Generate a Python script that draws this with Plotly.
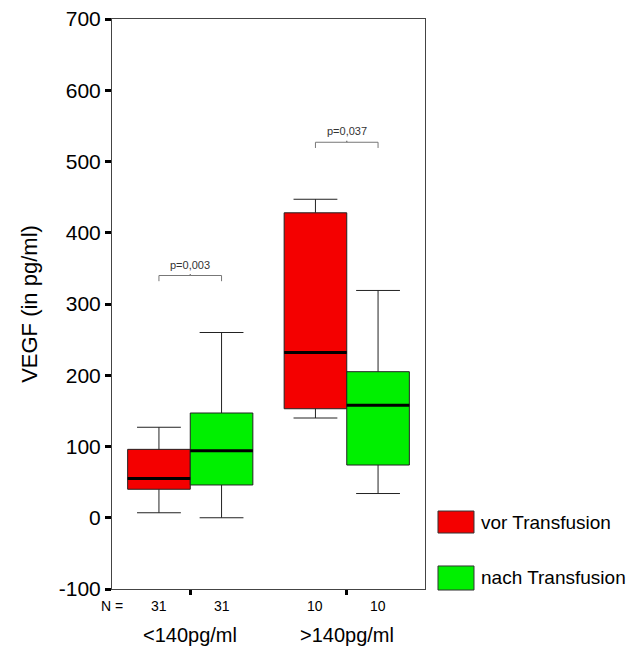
import plotly.graph_objects as go

# ---- data ----
groups = ["<140pg/ml", ">140pg/ml"]
n_counts_vor = [31, 10]
n_counts_nach = [31, 10]
series_names = ["vor Transfusion", "nach Transfusion"]

vor_lower = [7, 140]
vor_q1 = [40, 153]
vor_median = [55, 232]
vor_q3 = [96, 428]
vor_upper = [127, 447]

nach_lower = [0, 34]
nach_q1 = [46, 74]
nach_median = [94, 158]
nach_q3 = [147, 205]
nach_upper = [260, 319]

p_values = ["p=0,003", "p=0,037"]
y_ticks = [-100, 0, 100, 200, 300, 400, 500, 600, 700]
y_tick_labels = ["-100", "0", "100", "200", "300", "400", "500", "600", "700"]

# ---- style ----
RED = "#f40000"
GREEN = "#00f000"
FONT = "Liberation Sans, Arial, sans-serif"
OFF = 0.2          # half of slot for each box
BOXW = 0.4
BRACKET_OFFSET = 80
BRACKET_TICK = 8

fig = go.Figure()

gidx = list(range(len(groups)))
x_vor = [g - OFF for g in gidx]
x_nach = [g + OFF for g in gidx]

for name, xs, lo, q1, med, q3, up, col in [
    (series_names[0], x_vor, vor_lower, vor_q1, vor_median, vor_q3, vor_upper, RED),
    (series_names[1], x_nach, nach_lower, nach_q1, nach_median, nach_q3, nach_upper, GREEN),
]:
    fig.add_trace(go.Box(
        x=xs, q1=q1, median=med, q3=q3, lowerfence=lo, upperfence=up,
        width=BOXW, whiskerwidth=0.7, fillcolor=col,
        line=dict(color="#222222", width=1), name=name,
        showlegend=False, hoverinfo="skip", boxpoints=False,
    ))
    # thick median lines
    for x, m in zip(xs, med):
        fig.add_trace(go.Scatter(
            x=[x - BOXW / 2, x + BOXW / 2], y=[m, m], mode="lines",
            line=dict(color="black", width=3), showlegend=False, hoverinfo="skip",
        ))

# significance brackets
for g, pv in zip(gidx, p_values):
    top = max(vor_upper[g], nach_upper[g]) + BRACKET_OFFSET
    xl, xr = g - OFF, g + OFF
    fig.add_trace(go.Scatter(
        x=[xl, xl, g, g, g, xr, xr],
        y=[top - BRACKET_TICK, top, top, top + 2, top, top, top - BRACKET_TICK],
        mode="lines", line=dict(color="#777777", width=1),
        showlegend=False, hoverinfo="skip",
    ))
    fig.add_annotation(x=g, y=top, text=pv, showarrow=False, yanchor="bottom",
                       yshift=3, font=dict(family=FONT, size=11, color="#333333"))

# N labels
fig.add_annotation(x=0, xref="paper", y=-0.03, yref="paper", text="N =",
                   showarrow=False, xanchor="center", yanchor="middle",
                   font=dict(family=FONT, size=14, color="black"))
for xs, ns in [(x_vor, n_counts_vor), (x_nach, n_counts_nach)]:
    for x, n in zip(xs, ns):
        fig.add_annotation(x=x, y=-0.03, yref="paper", text=str(n), showarrow=False,
                           yanchor="middle", font=dict(family=FONT, size=14, color="black"))
for g, lab in zip(gidx, groups):
    fig.add_annotation(x=g, y=-0.081, yref="paper", text=lab, showarrow=False,
                       yanchor="middle", font=dict(family=FONT, size=20, color="black"))

# custom legend
for (y0, y1, yt), col, name in [((0.0982, 0.1368, 0.1175), RED, series_names[0]),
                                ((-0.0018, 0.0404, 0.0193), GREEN, series_names[1])]:
    fig.add_shape(type="rect", xref="paper", yref="paper", x0=1.0415, x1=1.1565,
                  y0=y0, y1=y1, fillcolor=col, line=dict(color="#333333", width=1))
    fig.add_annotation(xref="paper", yref="paper", x=1.1725, y=yt, text=name,
                       showarrow=False, xanchor="left", yanchor="middle",
                       font=dict(family=FONT, size=19, color="black"))

# page body has an 8px margin, so the figure is offset by 8px
fig.update_layout(
    width=629, height=640,
    margin=dict(l=104, r=212, t=11, b=59, autoexpand=False),
    plot_bgcolor="white", paper_bgcolor="white",
    boxmode="overlay", showlegend=False,
    font=dict(family=FONT, color="black"),
)
fig.update_xaxes(
    range=[-0.5, 1.5], tickvals=gidx, showticklabels=False,
    ticks="outside", ticklen=5, tickwidth=3, tickcolor="black",
    showline=True, mirror=True, linecolor="#444444", linewidth=1,
    showgrid=False, zeroline=False, automargin=False,
)
fig.update_yaxes(
    range=[-100, 700], tickvals=y_ticks, ticktext=y_tick_labels,
    ticks="outside", ticklen=6, tickwidth=3, ticklabeloverflow="allow",
    tickcolor="black", tickfont=dict(family=FONT, size=21, color="black"),
    showline=True, mirror=True, linecolor="#444444", linewidth=1,
    showgrid=False, zeroline=False, automargin=False,
    title=dict(text="VEGF (in pg/ml)", font=dict(family=FONT, size=22, color="black")),
)

fig.write_html("out.html")
